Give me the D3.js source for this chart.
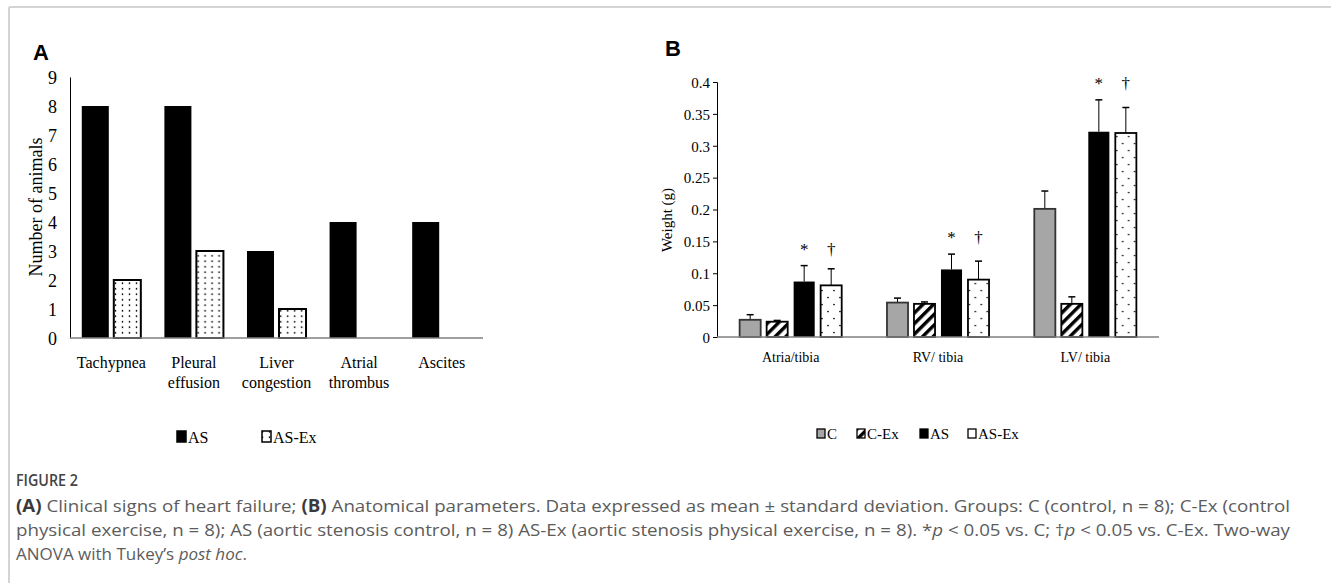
<!DOCTYPE html>
<html>
<head>
<meta charset="utf-8">
<title>Figure 2</title>
<script src="https://cdn.jsdelivr.net/npm/d3@7"></script>
<style>
  body { margin: 0; background: #fff; }
  svg text { font-family: "Liberation Serif", "Times New Roman", serif; fill: #000; }
  .cap text { font-family: "Open Sans", "Noto Sans", sans-serif; fill: #5c5c5c; }
</style>
</head>
<body>
<div id="chart"></div>
<script>
// panel A data
var signs = [["Tachypnea"], ["Pleural", "effusion"], ["Liver", "congestion"], ["Atrial", "thrombus"], ["Ascites"]];
var groupsA = ["AS", "AS-Ex"];
var countAS = [8, 8, 3, 4, 4];
var countASEx = [2, 3, 1, 0, 0];
var ticksA = [0, 1, 2, 3, 4, 5, 6, 7, 8, 9];

// panel B data
var params = ["Atria/tibia", "RV/ tibia", "LV/ tibia"];
var groupsB = ["C", "C-Ex", "AS", "AS-Ex"];
var meanB = {
  "C":     [0.027, 0.054, 0.201],
  "C-Ex":  [0.024, 0.052, 0.052],
  "AS":    [0.087, 0.106, 0.322],
  "AS-Ex": [0.081, 0.090, 0.320]
};
var sdB = {
  "C":     [0.008, 0.007, 0.028],
  "C-Ex":  [0.002, 0.003, 0.011],
  "AS":    [0.025, 0.024, 0.050],
  "AS-Ex": [0.026, 0.029, 0.040]
};
var marksB = {"AS": "*", "AS-Ex": "\u2020"};
var ticksB = [0, 0.05, 0.1, 0.15, 0.2, 0.25, 0.3, 0.35, 0.4];

var W = 1331, H = 583;
var svg = d3.select("#chart").append("svg").attr("width", W).attr("height", H);
var defs = svg.append("defs");

// patterns
function dots(id, w, h, pts) {
  var p = defs.append("pattern").attr("id", id).attr("patternUnits", "userSpaceOnUse")
    .attr("width", w).attr("height", h);
  p.append("rect").attr("width", w).attr("height", h).attr("fill", "#fff");
  pts.forEach(function (d) { p.append("circle").attr("cx", d[0]).attr("cy", d[1]).attr("r", 0.85).attr("fill", "#000"); });
}
dots("dotsA", 7, 5.5, [[3.5, 2.75]]);
dots("dotsB", 12, 14, [[3, 3.5], [9, 10.5]]);
var hp = defs.append("pattern").attr("id", "hatch").attr("patternUnits", "userSpaceOnUse")
  .attr("width", 7.5).attr("height", 7.5).attr("patternTransform", "rotate(45)");
hp.append("rect").attr("width", 7.5).attr("height", 7.5).attr("fill", "#fff");
hp.append("rect").attr("width", 3.4).attr("height", 7.5).attr("fill", "#000");

var fillB = {"C": "#a6a6a6", "C-Ex": "url(#hatch)", "AS": "#000", "AS-Ex": "url(#dotsB)"};

// frame
svg.append("line").attr("x1", 9).attr("x2", W).attr("y1", 7).attr("y2", 7).attr("stroke", "#d4d4d4").attr("stroke-width", 2);
svg.append("line").attr("x1", 9).attr("x2", 9).attr("y1", 7).attr("y2", H).attr("stroke", "#d4d4d4").attr("stroke-width", 2);

// ---------- panel A ----------
var xA = d3.scaleBand().domain(d3.range(signs.length)).range([70, 483]);
var x1A = d3.scaleBand().domain(groupsA).range([0, xA.bandwidth()]).paddingInner(0.156).paddingOuter(0.368);
var yA = d3.scaleLinear().domain([0, 9]).range([338, 77]);
var gA = svg.append("g");

gA.append("text").attr("x", 33).attr("y", 60).text("A")
  .style("font-family", "Liberation Sans, Arial, sans-serif").style("font-weight", "bold").style("font-size", "22px");

var axA = gA.append("g").attr("transform", "translate(70,0)")
  .call(d3.axisLeft(yA).tickValues(ticksA).tickSize(0).tickPadding(13));
axA.select(".domain").attr("stroke", "#000").attr("stroke-width", 1);
axA.selectAll("text").style("font-size", "18px").style("font-family", "Liberation Serif, serif").attr("dy", "0.35em");

gA.append("text").attr("transform", "translate(42,207) rotate(-90)").attr("text-anchor", "middle")
  .style("font-size", "18px").text("Number of animals");

var rowsA = signs.map(function (s, i) { return {i: i, AS: countAS[i], "AS-Ex": countASEx[i]}; });
var barA = gA.selectAll(".grp").data(rowsA).enter().append("g")
  .attr("transform", function (d) { return "translate(" + xA(d.i) + ",0)"; });
barA.selectAll("rect").data(function (d) {
  return groupsA.map(function (k) { return {k: k, v: d[k]}; }).filter(function (e) { return e.v > 0; });
}).enter().append("rect")
  .attr("x", function (e) { return x1A(e.k); })
  .attr("y", function (e) { return yA(e.v); })
  .attr("width", x1A.bandwidth())
  .attr("height", function (e) { return yA(0) - yA(e.v); })
  .attr("fill", function (e) { return e.k === "AS" ? "#000" : "url(#dotsA)"; })
  .attr("stroke", "#000").attr("stroke-width", function (e) { return e.k === "AS" ? 0 : 2; });

gA.append("line").attr("x1", 70).attr("x2", 483).attr("y1", yA(0)).attr("y2", yA(0)).attr("stroke", "#7f7f7f").attr("stroke-width", 1.5);

signs.forEach(function (s, i) {
  var t = gA.append("text").attr("x", xA(i) + xA.bandwidth() / 2).attr("y", 368).attr("text-anchor", "middle").style("font-size", "16px");
  s.forEach(function (w, j) { t.append("tspan").attr("x", xA(i) + xA.bandwidth() / 2).attr("dy", j ? 20 : 0).text(w); });
});

// legend A
var legA = [{k: "AS", x: 177}, {k: "AS-Ex", x: 262}];
legA.forEach(function (l) {
  gA.append("rect").attr("x", l.x).attr("y", 431).attr("width", 9).attr("height", 11)
    .attr("fill", l.k === "AS" ? "#000" : "url(#dotsA)").attr("stroke", "#000").attr("stroke-width", 1.5);
  gA.append("text").attr("x", l.x + 11).attr("y", 443).style("font-size", "16px").text(l.k);
});

// ---------- panel B ----------
var xB = d3.scaleBand().domain(params).range([717, 1159]);
var x1B = d3.scaleBand().domain(groupsB).range([0, xB.bandwidth()]).paddingInner(0.22).paddingOuter(0.838);
var yB = d3.scaleLinear().domain([0, 0.4]).range([337, 82]);
var gB = svg.append("g");

gB.append("text").attr("x", 665).attr("y", 56).text("B")
  .style("font-family", "Liberation Sans, Arial, sans-serif").style("font-weight", "bold").style("font-size", "22px");

var axB = gB.append("g").attr("transform", "translate(717,0)")
  .call(d3.axisLeft(yB).tickValues(ticksB).tickSize(4).tickPadding(3).tickFormat(function (d) { return d === 0 ? "0" : String(+d.toFixed(2)); }));
axB.select(".domain").attr("stroke", "#000").attr("stroke-width", 1);
axB.selectAll(".tick line").attr("stroke", "#000");
axB.selectAll("text").style("font-size", "15px").style("font-family", "Liberation Serif, serif").attr("dy", "0.35em");

gB.append("text").attr("transform", "translate(672,220) rotate(-90)").attr("text-anchor", "middle")
  .style("font-size", "15px").text("Weight (g)");

var rowsB = params.map(function (p, i) {
  return groupsB.map(function (k) { return {p: p, k: k, m: meanB[k][i], s: sdB[k][i]}; });
});
var grpB = gB.selectAll(".grpB").data(rowsB).enter().append("g")
  .attr("transform", function (d) { return "translate(" + xB(d[0].p) + ",0)"; });

grpB.selectAll(".err").data(function (d) { return d; }).enter().append("g").each(function (e) {
  var cx = x1B(e.k) + x1B.bandwidth() / 2, g = d3.select(this);
  g.append("line").attr("x1", cx).attr("x2", cx).attr("y1", yB(e.m)).attr("y2", yB(e.m + e.s)).attr("stroke", "#000").attr("stroke-width", 1);
  g.append("line").attr("x1", cx - 3.5).attr("x2", cx + 3.5).attr("y1", yB(e.m + e.s)).attr("y2", yB(e.m + e.s)).attr("stroke", "#000").attr("stroke-width", 1.5);
});

grpB.selectAll("rect").data(function (d) { return d; }).enter().append("rect")
  .attr("x", function (e) { return x1B(e.k); })
  .attr("y", function (e) { return yB(e.m); })
  .attr("width", x1B.bandwidth())
  .attr("height", function (e) { return yB(0) - yB(e.m); })
  .attr("fill", function (e) { return fillB[e.k]; })
  .attr("stroke", function (e) { return e.k === "C" ? "#333" : "#000"; })
  .attr("stroke-width", function (e) { return e.k === "AS" ? 0 : 1.8; });

// significance marks
grpB.each(function (d) {
  var top = d3.max(d, function (e) { return e.m + e.s; });
  var g = d3.select(this);
  d.filter(function (e) { return marksB[e.k]; }).forEach(function (e) {
    g.append("text").attr("x", x1B(e.k) + x1B.bandwidth() / 2).attr("y", yB(top) - 11)
      .attr("text-anchor", "middle").style("font-size", "17px").text(marksB[e.k]);
  });
});

gB.append("line").attr("x1", 717).attr("x2", 1159).attr("y1", yB(0)).attr("y2", yB(0)).attr("stroke", "#7f7f7f").attr("stroke-width", 1.5);

params.forEach(function (p) {
  gB.append("text").attr("x", xB(p) + xB.bandwidth() / 2).attr("y", 362).attr("text-anchor", "middle")
    .style("font-size", "14px").text(p);
});

// legend B
var legBx = [817, 857, 920, 968];
groupsB.forEach(function (k, i) {
  gB.append("rect").attr("x", legBx[i]).attr("y", 429).attr("width", 8).attr("height", 9)
    .attr("fill", k === "AS-Ex" ? "#fff" : fillB[k]).attr("stroke", "#000").attr("stroke-width", 1.3);
  gB.append("text").attr("x", legBx[i] + 10).attr("y", 439).style("font-size", "15px").text(k);
});

// ---------- caption ----------
var cap = svg.append("g").attr("class", "cap");
cap.append("text").attr("x", 16).attr("y", 486).style("font-size", "17px").style("font-weight", "600")
  .style("fill", "#444").attr("textLength", 62).attr("lengthAdjust", "spacingAndGlyphs").text("FIGURE 2");

var lines = [
  {y: 512, len: 1274, parts: [["(A)", "b"], [" Clinical signs of heart failure; "], ["(B)", "b"], [" Anatomical parameters. Data expressed as mean \u00b1 standard deviation. Groups: C (control, n = 8); C-Ex (control"]]},
  {y: 536, len: 1274, parts: [["physical exercise, n = 8); AS (aortic stenosis control, n = 8) AS-Ex (aortic stenosis physical exercise, n = 8). *"], ["p", "i"], [" < 0.05 vs. C; \u2020"], ["p", "i"], [" < 0.05 vs. C-Ex. Two-way"]]},
  {y: 560, len: 0, parts: [["ANOVA with Tukey\u2019s "], ["post hoc", "i"], ["."]]}
];
lines.forEach(function (l) {
  var t = cap.append("text").attr("x", 16).attr("y", l.y).style("font-size", "17px");
  if (l.len) t.attr("textLength", l.len).attr("lengthAdjust", "spacingAndGlyphs");
  l.parts.forEach(function (p) {
    var s = t.append("tspan").text(p[0]);
    if (p[1] === "b") s.style("font-weight", "bold").style("fill", "#3a3a3a");
    if (p[1] === "i") s.style("font-style", "italic");
  });
});
</script>
</body>
</html>
